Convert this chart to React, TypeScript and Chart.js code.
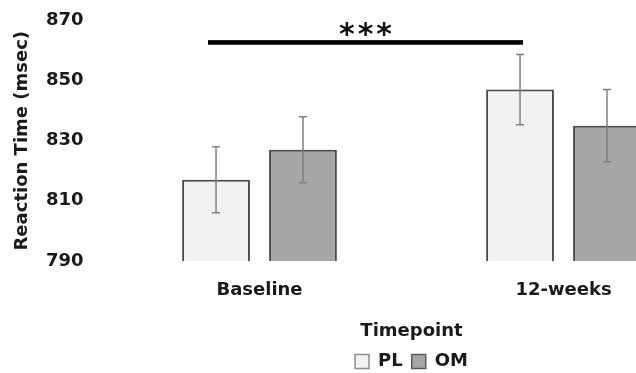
import React, { useEffect, useRef } from "react";
import { Chart, registerables } from "chart.js";

Chart.register(...registerables);

// ---- data ----
const categories = ["Baseline", "12-weeks"];
const seriesNames = ["PL", "OM"];
const plValues = [817, 847];
const omValues = [827, 835];
const plErrors = [11, 11.7];
const omErrors = [11, 12];
const yMin = 790;
const yMax = 870;
const yStep = 20;
const yTitle = "Reaction Time (msec)";
const legendTitle = "Timepoint";
const sigValue = 862.7; // height of the significance bar (msec)
const sigLabel = "***";
const sigFromCategory = 0; // PL bar at Baseline
const sigToCategory = 1; // PL bar at 12-weeks

// ---- styles ----
const FONT = "'DejaVu Sans', sans-serif";
const TEXT = "#1a1a1a";
const PL_FILL = "#f2f2f2";
const OM_FILL = "#a6a6a6";
const BAR_BORDER = "#4a4a4a";
const ERR_COLOR = "#808080";

const errorBarsPlugin = {
  id: "errorBars",
  afterDatasetsDraw(chart: any) {
    const ctx = chart.ctx;
    const ys = chart.scales.y;
    const errs = [plErrors, omErrors];
    chart.data.datasets.forEach((ds: any, di: number) => {
      const meta = chart.getDatasetMeta(di);
      meta.data.forEach((bar: any, i: number) => {
        const v = ds.data[i];
        const e = errs[di][i];
        const top = ys.getPixelForValue(v + e);
        const bot = ys.getPixelForValue(v - e);
        ctx.save();
        ctx.strokeStyle = ERR_COLOR;
        ctx.lineWidth = 1.5;
        ctx.beginPath();
        ctx.moveTo(bar.x, top);
        ctx.lineTo(bar.x, bot);
        ctx.moveTo(bar.x - 4, top);
        ctx.lineTo(bar.x + 4, top);
        ctx.moveTo(bar.x - 4, bot);
        ctx.lineTo(bar.x + 4, bot);
        ctx.stroke();
        ctx.restore();
      });
    });
  },
};

const significancePlugin = {
  id: "significance",
  afterDraw(chart: any) {
    const ctx = chart.ctx;
    const meta = chart.getDatasetMeta(0);
    const x1 = meta.data[sigFromCategory].x - 8;
    const x2 = meta.data[sigToCategory].x + 3;
    const yy = chart.scales.y.getPixelForValue(sigValue);
    ctx.save();
    ctx.fillStyle = "#000";
    ctx.fillRect(x1, yy - 2.3, x2 - x1, 4.6);
    ctx.font = `bold 30px ${FONT}`;
    (ctx as any).letterSpacing = "3px";
    ctx.textAlign = "center";
    ctx.textBaseline = "alphabetic";
    ctx.fillStyle = "#111";
    ctx.fillText(sigLabel, (x1 + x2) / 2 + 1.5, yy + 2);
    ctx.restore();
  },
};

export default function App() {
  const ref = useRef<HTMLCanvasElement | null>(null);

  useEffect(() => {
    if (!ref.current) return;
    const chart = new Chart(ref.current, {
      type: "bar",
      data: {
        labels: categories,
        datasets: [
          {
            label: seriesNames[0],
            data: plValues,
            backgroundColor: PL_FILL,
            borderColor: BAR_BORDER,
            borderWidth: 2,
            borderSkipped: false,
            categoryPercentage: 0.572,
            barPercentage: 0.78,
          },
          {
            label: seriesNames[1],
            data: omValues,
            backgroundColor: OM_FILL,
            borderColor: BAR_BORDER,
            borderWidth: 2,
            borderSkipped: false,
            categoryPercentage: 0.572,
            barPercentage: 0.78,
          },
        ],
      },
      options: {
        responsive: false,
        animation: false,
        layout: { padding: { left: 11.2, right: 24.5, top: 20.5, bottom: 9.5 } },
        scales: {
          x: {
            grid: { display: false, drawTicks: false },
            border: { display: false },
            ticks: { padding: 18.5, color: TEXT, font: { family: FONT, size: 18, weight: "bold" } },
            afterFit: (s: any) => {
              s.height = 61;
              s.paddingLeft = 0;
              s.paddingRight = 0;
            },
          },
          y: {
            min: yMin,
            max: yMax,
            grid: { display: false, drawTicks: false },
            border: { display: false },
            ticks: {
              stepSize: yStep,
              padding: 24,
              color: TEXT,
              font: { family: FONT, size: 18, weight: "bold" },
            },
            title: {
              display: true,
              text: yTitle,
              color: TEXT,
              padding: { top: 0, bottom: 0 },
              font: { family: FONT, size: 18, weight: "bold" },
            },
            afterFit: (s: any) => {
              s.width = 96.3;
              s.paddingTop = 0;
              s.paddingBottom = 0;
            },
          },
        },
        plugins: {
          tooltip: { enabled: false },
          legend: {
            position: "bottom",
            fullSize: false,
            title: {
              display: true,
              text: legendTitle,
              color: TEXT,
              padding: 0,
              font: { family: FONT, size: 18, weight: "bold" },
            },
            labels: {
              boxWidth: 14,
              boxHeight: 14,
              padding: 9,
              color: TEXT,
              font: { family: FONT, size: 18, weight: "bold" },
              generateLabels: (chart: any) =>
                chart.data.datasets.map((ds: any, i: number) => ({
                  text: ds.label,
                  fillStyle: ds.backgroundColor,
                  strokeStyle: i === 0 ? "#8c8c8c" : "#595959",
                  lineWidth: 1.5,
                  fontColor: TEXT,
                  hidden: false,
                  datasetIndex: i,
                })),
            },
          },
        },
      } as any,
      plugins: [errorBarsPlugin, significancePlugin],
    });
    return () => chart.destroy();
  }, []);

  return (
    <div
      style={{
        position: "fixed",
        left: 0,
        top: 0,
        width: 636,
        height: 373,
        overflow: "hidden",
        background: "#fff",
      }}
    >
      <canvas ref={ref} width={740} height={390} style={{ display: "block" }} />
    </div>
  );
}
